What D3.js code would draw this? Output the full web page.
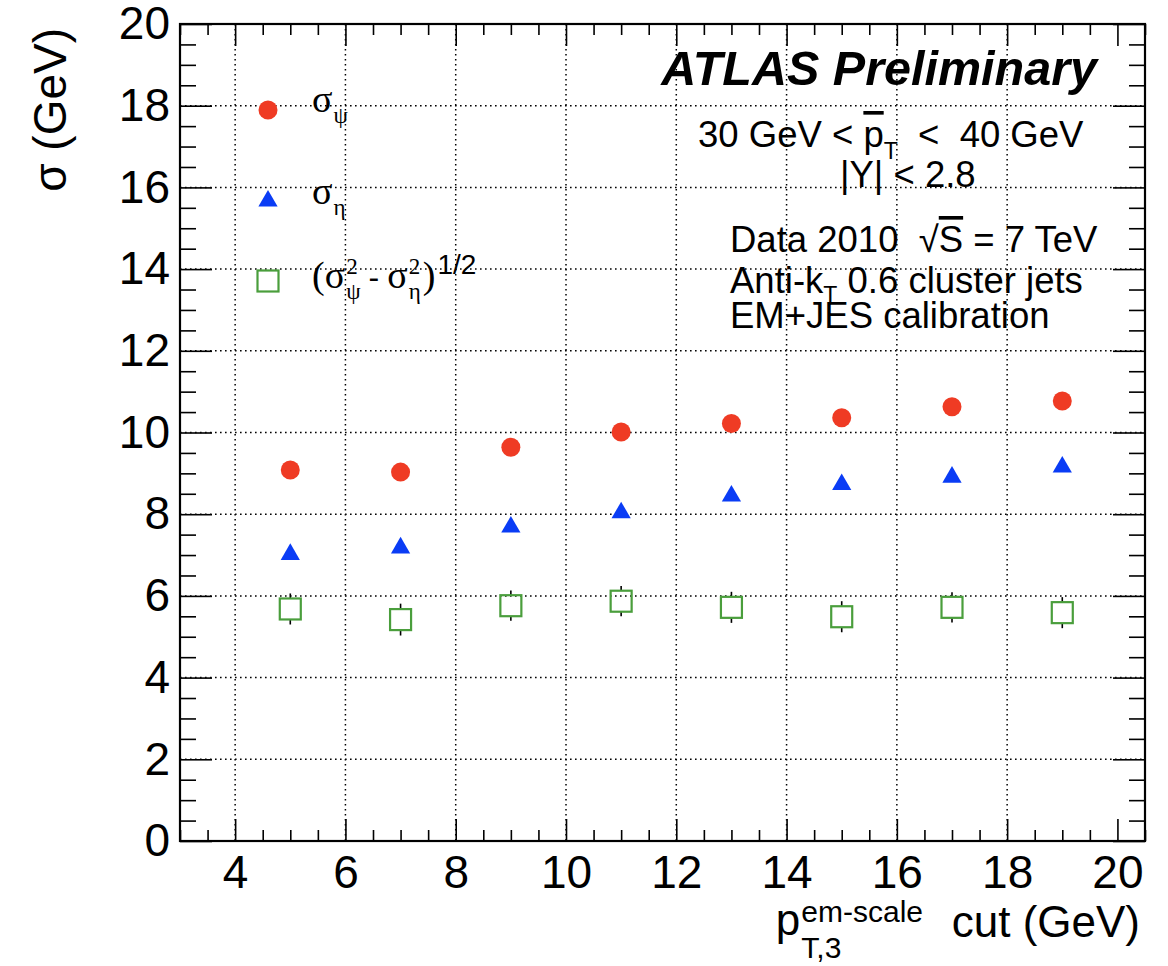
<!DOCTYPE html>
<html>
<head>
<meta charset="utf-8">
<script src="https://cdn.jsdelivr.net/npm/d3@7"></script>
<style>
  body { margin: 0; background: #fff; }
  text { font-family: "Liberation Sans", Arial, Helvetica, sans-serif; fill: #000; }
  .grid line { stroke: #000; stroke-width: 1.5; stroke-dasharray: 1.6,3.4; }
  .tick line { stroke: #000; stroke-width: 1.6; }
</style>
</head>
<body>
<svg id="chart" width="1168" height="966"></svg>
<script>
// pT,3 cut values (GeV)
var cuts = [5, 7, 9, 11, 13, 15, 17, 19];
// sigma_psi, sigma_eta and the quadrature difference (GeV)
var sigmaPsi = [9.08, 9.03, 9.64, 10.01, 10.22, 10.36, 10.63, 10.77];
var sigmaEta = [7.04, 7.20, 7.71, 8.06, 8.47, 8.75, 8.93, 9.18];
var sigmaDiff = [5.68, 5.42, 5.76, 5.87, 5.72, 5.49, 5.72, 5.59];
var sigmaDiffErr = [0.38, 0.39, 0.37, 0.37, 0.38, 0.38, 0.37, 0.38];
var xTicks = [4, 6, 8, 10, 12, 14, 16, 18, 20];
var yTicks = [0, 2, 4, 6, 8, 10, 12, 14, 16, 18, 20];

var svg = d3.select('#chart');
var pLeft = 180, pRight = 1145, pTop = 24, pBottom = 841;

var x = d3.scaleLinear().domain([3, 20.5]).range([pLeft, pRight]);
var y = d3.scaleLinear().domain([0, 20]).range([pBottom, pTop]);

var xMinor = d3.range(3, 20.51, 0.5).filter(function(v){ return xTicks.indexOf(v) < 0; });
var yMinor = d3.range(0, 20.01, 0.5).filter(function(v){ return yTicks.indexOf(v) < 0; });

svg.append('rect').attr('width', 1168).attr('height', 966).attr('fill', '#fff');

// dotted grid
svg.append('g').attr('class', 'grid')
  .selectAll('line').data(xTicks.slice(0, -1)).enter().append('line')
  .attr('x1', function(d){ return x(d); }).attr('x2', function(d){ return x(d); })
  .attr('y1', pTop).attr('y2', pBottom);
svg.append('g').attr('class', 'grid')
  .selectAll('line').data(yTicks.slice(1, -1)).enter().append('line')
  .attr('x1', pLeft).attr('x2', pRight)
  .attr('y1', function(d){ return y(d); }).attr('y2', function(d){ return y(d); });

function addAxis(gen, tx, ty){
  var g = svg.append('g')
    .attr('transform', 'translate(' + tx + ',' + ty + ')')
    .call(gen);
  g.select('.domain').remove();
  return g;
}

// bottom + top
var xb = addAxis(d3.axisBottom(x).tickValues(xTicks).tickSizeInner(-22).tickSizeOuter(0).tickPadding(14).tickFormat(d3.format('d')), 0, pBottom);
xb.selectAll('text').style('font-size', '46px');
addAxis(d3.axisBottom(x).tickValues(xMinor).tickSizeInner(-11).tickSizeOuter(0).tickFormat(''), 0, pBottom);
addAxis(d3.axisTop(x).tickValues(xTicks).tickSizeInner(-22).tickSizeOuter(0).tickFormat(''), 0, pTop);
addAxis(d3.axisTop(x).tickValues(xMinor).tickSizeInner(-11).tickSizeOuter(0).tickFormat(''), 0, pTop);

// left + right
var yl = addAxis(d3.axisLeft(y).tickValues(yTicks).tickSizeInner(-32).tickSizeOuter(0).tickPadding(10).tickFormat(d3.format('d')), pLeft, 0);
yl.selectAll('text').style('font-size', '46px');
addAxis(d3.axisLeft(y).tickValues(yMinor).tickSizeInner(-16).tickSizeOuter(0).tickFormat(''), pLeft, 0);
addAxis(d3.axisRight(y).tickValues(yTicks).tickSizeInner(-32).tickSizeOuter(0).tickFormat(''), pRight, 0);
addAxis(d3.axisRight(y).tickValues(yMinor).tickSizeInner(-16).tickSizeOuter(0).tickFormat(''), pRight, 0);

// frame
svg.append('rect')
  .attr('x', pLeft).attr('y', pTop)
  .attr('width', pRight - pLeft).attr('height', pBottom - pTop)
  .attr('fill', 'none').attr('stroke', '#000').attr('stroke-width', 2.2);

// x title: p^{em-scale}_{T,3} cut (GeV)
svg.append('text').attr('x', 1140).attr('y', 937)
  .attr('text-anchor', 'end').style('font-size', '44px').text('cut (GeV)');
var sup = svg.append('text').attr('x', 923).attr('y', 922)
  .attr('text-anchor', 'end').style('font-size', '30px').text('em-scale');
var supStart = 923 - sup.node().getComputedTextLength();
svg.append('text').attr('x', supStart - 1).attr('y', 935)
  .attr('text-anchor', 'end').style('font-size', '44px').text('p');
svg.append('text').attr('x', supStart).attr('y', 958).style('font-size', '30px').text('T,3');

svg.append('text')
  .attr('transform', 'translate(66,28) rotate(-90)')
  .attr('text-anchor', 'end').style('font-size', '46px').text('σ (GeV)');

// colours
var red = '#ef3b24', blue = '#0a3cf5', green = '#4a9e3c';
var sq = 21;

// error bars for the difference, drawn outside the marker
var eb = svg.append('g').attr('stroke', '#000').attr('stroke-width', 1.6);
cuts.forEach(function(c, i){
  var cx = x(c), cy = y(sigmaDiff[i]);
  eb.append('line').attr('x1', cx).attr('x2', cx)
    .attr('y1', y(sigmaDiff[i] + sigmaDiffErr[i])).attr('y2', cy - sq / 2);
  eb.append('line').attr('x1', cx).attr('x2', cx)
    .attr('y1', cy + sq / 2).attr('y2', y(sigmaDiff[i] - sigmaDiffErr[i]));
});

svg.append('g').selectAll('rect').data(cuts).enter().append('rect')
  .attr('x', function(d){ return x(d) - sq / 2; })
  .attr('y', function(d, i){ return y(sigmaDiff[i]) - sq / 2; })
  .attr('width', sq).attr('height', sq)
  .attr('fill', 'none').attr('stroke', green).attr('stroke-width', 2.2);

svg.append('g').selectAll('circle').data(cuts).enter().append('circle')
  .attr('cx', function(d){ return x(d); })
  .attr('cy', function(d, i){ return y(sigmaPsi[i]); })
  .attr('r', 9.5).attr('fill', red);

var tri = d3.symbol().type(d3.symbolTriangle).size(160);
svg.append('g').selectAll('path').data(cuts).enter().append('path')
  .attr('transform', function(d, i){ return 'translate(' + x(d) + ',' + (y(sigmaEta[i]) + 1) + ')'; })
  .attr('d', tri).attr('fill', blue);

// legend
var lg = svg.append('g');
lg.append('circle').attr('cx', 268).attr('cy', 110).attr('r', 9.5).attr('fill', red);
lg.append('path').attr('transform', 'translate(268,201)').attr('d', tri).attr('fill', blue);
lg.append('rect').attr('x', 268 - sq / 2).attr('y', 281 - sq / 2).attr('width', sq).attr('height', sq)
  .attr('fill', 'none').attr('stroke', green).attr('stroke-width', 2.2);

var serif = '"Liberation Serif", "DejaVu Serif", serif';
function piece(xp, yp, str, size, fam){
  var t = lg.append('text').attr('x', xp).attr('y', yp)
    .style('font-size', size + 'px').text(str);
  if (fam) t.style('font-family', fam);
  return t.node().getComputedTextLength();
}
function greek(xp, yp, sub){
  var w = piece(xp, yp, 'σ', 38, serif);
  piece(xp + w + 1, yp + 11, sub, 23, serif);
}
greek(312, 112, 'ψ');
greek(312, 204, 'η');

// (σ²_ψ - σ²_η)^{1/2}
var cx0 = 312, base = 288;
cx0 += piece(cx0, base, '(', 38, serif);
cx0 += piece(cx0, base, 'σ', 38, serif) + 1;
var w2 = Math.max(piece(cx0, base - 14, '2', 23, serif), piece(cx0, base + 11, 'ψ', 23, serif));
cx0 += w2 + 8;
cx0 += piece(cx0, base, '-', 32) + 8;
cx0 += piece(cx0, base, 'σ', 38, serif) + 1;
w2 = Math.max(piece(cx0, base - 14, '2', 23, serif), piece(cx0, base + 11, 'η', 23, serif));
cx0 += w2 + 2;
cx0 += piece(cx0, base, ')', 38, serif) + 2;
piece(cx0, base - 14, '1/2', 28);

// labels
svg.append('text').attr('x', 1097).attr('y', 85).attr('text-anchor', 'end')
  .style('font-size', '48.5px').style('font-weight', 'bold').style('font-style', 'italic')
  .text('ATLAS Preliminary');

var fs = '36.5px';
var t1 = svg.append('text').attr('x', 698).attr('y', 147).style('font-size', fs)
  .attr('xml:space', 'preserve');
t1.append('tspan').text('30 GeV < ');
t1.append('tspan').style('text-decoration', 'overline').text('p');
t1.append('tspan').attr('dy', 12).style('font-size', '23px').text('T');
t1.append('tspan').attr('dy', -12).text('  <  40 GeV');

svg.append('text').attr('x', 840).attr('y', 187).style('font-size', fs).text('|Y| < 2.8');

var t3 = svg.append('text').attr('x', 730).attr('y', 252).style('font-size', fs)
  .attr('xml:space', 'preserve');
t3.append('tspan').text('Data 2010  √');
t3.append('tspan').style('text-decoration', 'overline').text('S');
t3.append('tspan').text(' = 7 TeV');

var t4 = svg.append('text').attr('x', 730).attr('y', 293).style('font-size', fs);
t4.append('tspan').text('Anti-k');
t4.append('tspan').attr('dy', 10).style('font-size', '23px').text('T');
t4.append('tspan').attr('dy', -10).text(' 0.6 cluster jets');

svg.append('text').attr('x', 730).attr('y', 328).style('font-size', fs).text('EM+JES calibration');
</script>
</body>
</html>
